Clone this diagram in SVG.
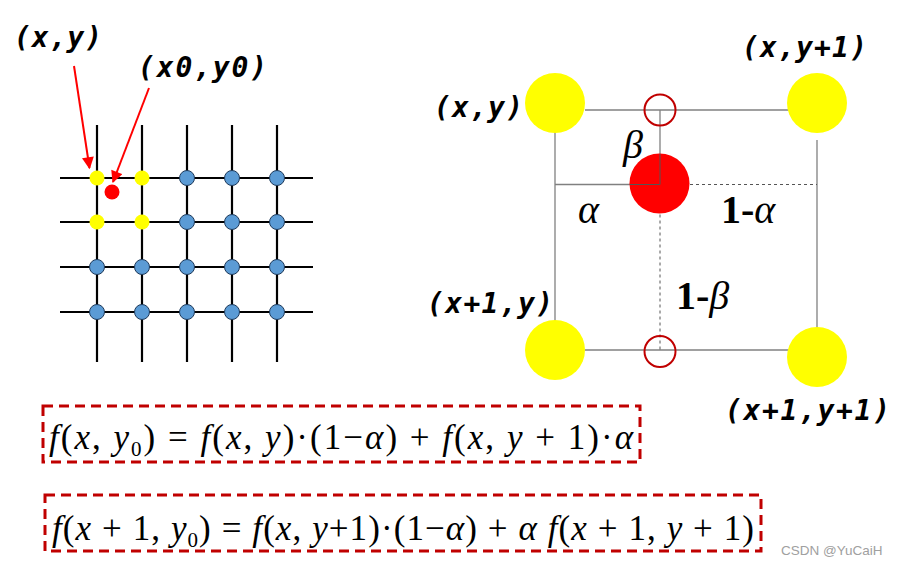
<svg xmlns="http://www.w3.org/2000/svg" width="899" height="566" viewBox="0 0 899 566">
<defs>
<style>
.grid{stroke:#000;stroke-width:2.2;fill:none}
.blue{fill:#5B9BD5;stroke:#1F3A5A;stroke-width:1}
.yel{fill:#FFFF00}
.lbl{font-family:"DejaVu Sans Mono","Liberation Mono",monospace;font-weight:bold;font-style:italic;font-size:28px;fill:#000}
.gl{stroke:#808080;stroke-width:1.3;fill:none}
.gd{stroke:#555;stroke-width:1;stroke-dasharray:3 3;fill:none}
.ring{fill:none;stroke:#C00000;stroke-width:2}
.greek{font-family:"Liberation Serif","DejaVu Serif",serif;font-style:italic;font-size:40px;fill:#000}
.one{font-family:"Liberation Serif","DejaVu Serif",serif;font-weight:bold;font-style:normal}
.box{fill:none;stroke:#C00000;stroke-width:3;stroke-dasharray:10 6}
.eq{font-family:"Liberation Serif","Times New Roman",serif;font-size:35px;fill:#000}
.it{font-style:italic}
.arrow{stroke:#FF0000;stroke-width:2;fill:none}
</style>
<marker id="ah" viewBox="0 0 10 10" refX="9" refY="5" markerWidth="6.5" markerHeight="6" orient="auto" markerUnits="strokeWidth">
<path d="M0,0 L10,5 L0,10 z" fill="#FF0000"/>
</marker>
</defs>
<rect width="899" height="566" fill="#fff"/>

<g id="grid">
<g class="grid">
<line x1="97" y1="125" x2="97" y2="362"/>
<line x1="142" y1="125" x2="142" y2="362"/>
<line x1="187" y1="125" x2="187" y2="362"/>
<line x1="232" y1="125" x2="232" y2="362"/>
<line x1="277" y1="125" x2="277" y2="362"/>
<line x1="60" y1="178" x2="313" y2="178"/>
<line x1="60" y1="222" x2="313" y2="222"/>
<line x1="60" y1="267" x2="313" y2="267"/>
<line x1="60" y1="312" x2="313" y2="312"/>
</g>
<circle class="yel" cx="97" cy="178" r="7.5"/>
<circle class="yel" cx="142" cy="178" r="7.5"/>
<circle class="yel" cx="97" cy="222" r="7.5"/>
<circle class="yel" cx="142" cy="222" r="7.5"/>
<circle class="blue" cx="187" cy="178" r="7.5"/>
<circle class="blue" cx="232" cy="178" r="7.5"/>
<circle class="blue" cx="277" cy="178" r="7.5"/>
<circle class="blue" cx="187" cy="222" r="7.5"/>
<circle class="blue" cx="232" cy="222" r="7.5"/>
<circle class="blue" cx="277" cy="222" r="7.5"/>
<circle class="blue" cx="97" cy="267" r="7.5"/>
<circle class="blue" cx="142" cy="267" r="7.5"/>
<circle class="blue" cx="187" cy="267" r="7.5"/>
<circle class="blue" cx="232" cy="267" r="7.5"/>
<circle class="blue" cx="277" cy="267" r="7.5"/>
<circle class="blue" cx="97" cy="312" r="7.5"/>
<circle class="blue" cx="142" cy="312" r="7.5"/>
<circle class="blue" cx="187" cy="312" r="7.5"/>
<circle class="blue" cx="232" cy="312" r="7.5"/>
<circle class="blue" cx="277" cy="312" r="7.5"/>
<circle cx="112" cy="192" r="7.5" fill="#FF0000"/>
</g>

<g id="label-xy-left"><text class="lbl" x="14" y="47" textLength="88" lengthAdjust="spacing">(x,y)</text></g>
<g id="label-x0y0"><text class="lbl" x="138" y="77" textLength="129" lengthAdjust="spacing">(x0,y0)</text></g>

<g id="connectors">
<line class="arrow" x1="74" y1="66" x2="89.5" y2="168" marker-end="url(#ah)"/>
<line class="arrow" x1="149" y1="88" x2="113" y2="182" marker-end="url(#ah)"/>
</g>

<g id="cell">
<line class="gl" x1="585" y1="110" x2="795" y2="110"/>
<line class="gl" x1="585" y1="350" x2="795" y2="350"/>
<line class="gl" x1="555" y1="130" x2="555" y2="322"/>
<line class="gl" x1="817" y1="140" x2="817" y2="328"/>
<line class="gl" x1="555" y1="184.5" x2="660" y2="184.5"/>
<line class="gl" x1="660" y1="110" x2="660" y2="184.5"/>
<line class="gd" x1="660" y1="184.5" x2="817" y2="184.5"/>
<line class="gd" x1="660" y1="184.5" x2="660" y2="350"/>
</g>

<g id="node-xy"><circle class="yel" cx="555" cy="103" r="30"/></g>
<g id="node-xy1"><circle class="yel" cx="817" cy="103" r="30"/></g>
<g id="node-x1y"><circle class="yel" cx="555" cy="350" r="30"/></g>
<g id="node-x1y1"><circle class="yel" cx="817" cy="357" r="30"/></g>
<g id="node-p"><circle cx="659.5" cy="183.5" r="30" fill="#FF0000"/><line x1="660" y1="154" x2="660" y2="184.5" stroke="#555" stroke-width="1"/><line x1="630" y1="184.5" x2="660" y2="184.5" stroke="#555" stroke-width="1"/></g>
<g id="ring-top"><circle class="ring" cx="660" cy="110" r="15.5"/></g>
<g id="ring-bottom"><circle class="ring" cx="660" cy="351.5" r="15.5"/></g>

<g id="label-xy"><text class="lbl" x="434" y="117" textLength="89" lengthAdjust="spacing">(x,y)</text></g>
<g id="label-xy1"><text class="lbl" x="742" y="57" textLength="125" lengthAdjust="spacing">(x,y+1)</text></g>
<g id="label-x1y"><text class="lbl" x="427" y="313" textLength="126" lengthAdjust="spacing">(x+1,y)</text></g>
<g id="label-x1y1"><text class="lbl" x="725" y="420" textLength="165" lengthAdjust="spacing">(x+1,y+1)</text></g>

<g id="greek">
<text class="greek" x="623" y="158">β</text>
<text class="greek" x="578" y="223">α</text>
<text class="greek" x="721" y="223"><tspan class="one">1-</tspan>α</text>
<text class="greek" x="676" y="309"><tspan class="one">1-</tspan>β</text>
</g>

<g id="eq1">
<rect class="box" x="43" y="406" width="597" height="56"/>
<text class="eq" x="49" y="449" textLength="584" lengthAdjust="spacing"><tspan class="it">f</tspan>(<tspan class="it">x</tspan>, <tspan class="it">y</tspan><tspan font-size="21" dy="7">0</tspan><tspan dy="-7">) = </tspan><tspan class="it">f</tspan>(<tspan class="it">x</tspan>, <tspan class="it">y</tspan>)·(1−<tspan class="it">α</tspan>) + <tspan class="it">f</tspan>(<tspan class="it">x</tspan>, <tspan class="it">y</tspan> + 1)·<tspan class="it">α</tspan></text>
</g>

<g id="eq2">
<rect class="box" x="45" y="495" width="716" height="56"/>
<text class="eq" x="52" y="540" textLength="702" lengthAdjust="spacing"><tspan class="it">f</tspan>(<tspan class="it">x</tspan> + 1, <tspan class="it">y</tspan><tspan font-size="21" dy="7">0</tspan><tspan dy="-7">) = </tspan><tspan class="it">f</tspan>(<tspan class="it">x</tspan>, <tspan class="it">y</tspan>+1)·(1−<tspan class="it">α</tspan>) + <tspan class="it">α</tspan> <tspan class="it">f</tspan>(<tspan class="it">x</tspan> + 1, <tspan class="it">y</tspan> + 1)</text>
</g>

<g id="watermark"><text x="781" y="555" font-family="Liberation Sans, Arial, sans-serif" font-size="13.5" fill="#A0A0A0">CSDN @YuCaiH</text></g>
</svg>
